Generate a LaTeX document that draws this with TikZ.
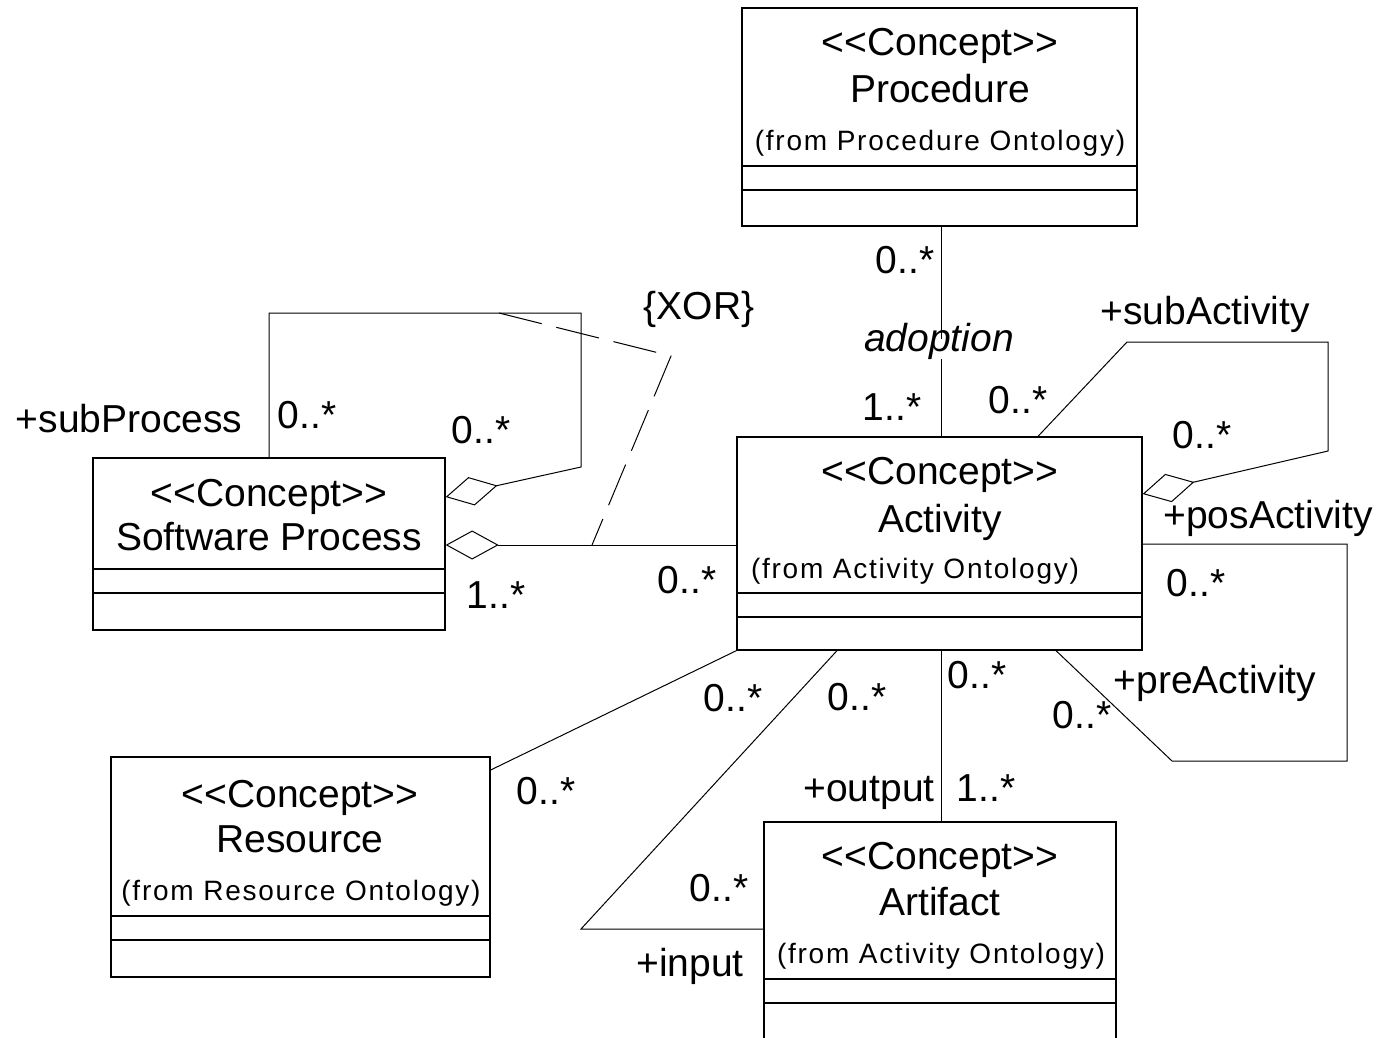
\documentclass[tikz,border=0pt]{standalone}
\usepackage{fontspec}
\usetikzlibrary{arrows.meta}
\newfontfamily\uf{Liberation Sans}
\newfontfamily\ufs[LetterSpace=6.3]{Liberation Sans}
\tikzset{
  lbl/.style={inner sep=0pt, text height=0.72em, text depth=0.2em, font=\uf\fontsize{39}{44}\selectfont},
  src/.style={inner sep=0pt, text height=0.72em, text depth=0.2em, font=\ufs\fontsize{28}{32}\selectfont},
  box/.style={draw, line width=1.3pt, inner sep=0pt},
  sep/.style={line width=1.2pt},
  conn/.style={line width=1pt},
  agg/.style={-{Diamond[open,length=53pt,width=29pt]}},
  aggs/.style={{Diamond[open,length=53pt,width=29pt]}-},
  xor/.style={line width=1pt, dash pattern=on 44pt off 15pt},
}
\begin{document}
\begin{tikzpicture}[x=1pt,y=-1pt]
\useasboundingbox (0,0) rectangle (1382,1038);
\clip (0,0) rectangle (1382,1038);
\fill[white] (0,0) rectangle (1382,1038);

% ---------- classes ----------
\node[box, minimum width=395pt, minimum height=218pt] (proc) at (939.5,117) {};
\draw[sep] (proc.west |- 0,166) -- (proc.east |- 0,166) (proc.west |- 0,190) -- (proc.east |- 0,190);
\node[lbl] (procst) at (940,53) {<<Concept>>};
\node[lbl] (procnm) at (940,100) {Procedure};
\node[src] (procfr) at (940,148) {(from Procedure Ontology)};

\node[box, minimum width=405pt, minimum height=213pt] (act) at (939.5,543.5) {};
\draw[sep] (act.west |- 0,593) -- (act.east |- 0,593) (act.west |- 0,617) -- (act.east |- 0,617);
\node[lbl] (actst) at (940,482) {<<Concept>>};
\node[lbl] (actnm) at (940,530) {Activity};
\node[src] (actfr) at (915,576) {(from Activity Ontology)};

\node[box, minimum width=352pt, minimum height=172pt] (sp) at (269,544) {};
\draw[sep] (sp.west |- 0,569) -- (sp.east |- 0,569) (sp.west |- 0,593) -- (sp.east |- 0,593);
\node[lbl] (spst) at (269,504) {<<Concept>>};
\node[lbl] (spnm) at (269,548) {Software Process};

\node[box, minimum width=379pt, minimum height=220pt] (res) at (300.5,867) {};
\draw[sep] (res.west |- 0,916) -- (res.east |- 0,916) (res.west |- 0,940) -- (res.east |- 0,940);
\node[lbl] (resst) at (300,805) {<<Concept>>};
\node[lbl] (resnm) at (300,850) {Resource};
\node[src] (resfr) at (301,898) {(from Resource Ontology)};

\node[box, minimum width=352pt, minimum height=238pt] (art) at (940,941) {};
\draw[sep] (art.west |- 0,979) -- (art.east |- 0,979) (art.west |- 0,1003) -- (art.east |- 0,1003);
\node[lbl] (artst) at (940,867) {<<Concept>>};
\node[lbl] (artnm) at (940,913) {Artifact};
\node[src] (artfr) at (941,961) {(from Activity Ontology)};

% ---------- connectors ----------
% adoption
\draw[conn] (proc.south -| 941,0) -- (act.north -| 941,0);
\node[lbl, fill=white, inner xsep=2pt, inner ysep=5pt] (adop) at (939,349) {\itshape adoption};
\node[lbl] (m1) at (905,271) {0..*};
\node[lbl] (m2) at (892,418) {1..*};

% subActivity loop
\coordinate (sa1) at (1127,342);
\coordinate (sa2) at (1328,342);
\coordinate (sa3) at (1328,451);
\draw[conn, agg] (act.north -| 1038,0) -- (sa1) -- (sa2) -- (sa3) -- (act.east |- 0,494);
\node[lbl] (m3) at (1018,411) {0..*};
\node[lbl] (subact) at (1205,322) {+subActivity};
\node[lbl] (m4) at (1202,446) {0..*};

% pos/pre activity loop
\coordinate (pa1) at (1347,544);
\coordinate (pa2) at (1347,761);
\coordinate (pa3) at (1172,761);
\draw[conn] (act.east |- 0,544) -- (pa1) -- (pa2) -- (pa3) -- (act.south -| 1056,0);
\node[lbl] (posact) at (1268,526) {+posActivity};
\node[lbl] (m5) at (1196,594) {0..*};
\node[lbl] (preact) at (1215,691) {+preActivity};
\node[lbl] (m6) at (1082,726) {0..*};

% Software Process - Activity
\draw[conn, aggs] (sp.east |- 0,545) -- (act.west |- 0,545);
\node[lbl] (m7) at (496,606) {1..*};
\node[lbl] (m8) at (687,591) {0..*};

% subProcess loop
\coordinate (sp1) at (269,313);
\coordinate (sp2) at (581,313);
\coordinate (sp3) at (581,467);
\draw[conn, agg] (sp.north -| 269,0) -- (sp1) -- (sp2) -- (sp3) -- (sp.east |- 0,497);
\node[lbl] (subproc) at (129,430) {+subProcess};
\node[lbl] (m9) at (307,426) {0..*};
\node[lbl] (m10) at (481,441) {0..*};

% XOR constraint
\coordinate (x1) at (499,313);
\coordinate (x2) at (671,356);
\coordinate (x3) at (592,545);
\draw[xor] (x1) -- (x2) -- (x3);
\node[lbl] (xorl) at (699,317) {\{XOR\}};

% Resource - Activity
\draw[conn] (res.east |- 0,770) -- (act.south west);
\node[lbl] (m11) at (546,802) {0..*};
\node[lbl] (m12) at (733,709) {0..*};

% input
\coordinate (in1) at (581,929);
\draw[conn] (act.south -| 837,0) -- (in1) -- (art.west |- 0,929);
\node[lbl] (m13) at (857,708) {0..*};
\node[lbl] (m14) at (719,899) {0..*};
\node[lbl] (inp) at (690,974) {+input};

% output
\draw[conn] (act.south -| 941,0) -- (art.north -| 941,0);
\node[lbl] (m15) at (977,686) {0..*};
\node[lbl] (outp) at (869,799) {+output};
\node[lbl] (m16) at (986,799) {1..*};
\end{tikzpicture}
\end{document}
